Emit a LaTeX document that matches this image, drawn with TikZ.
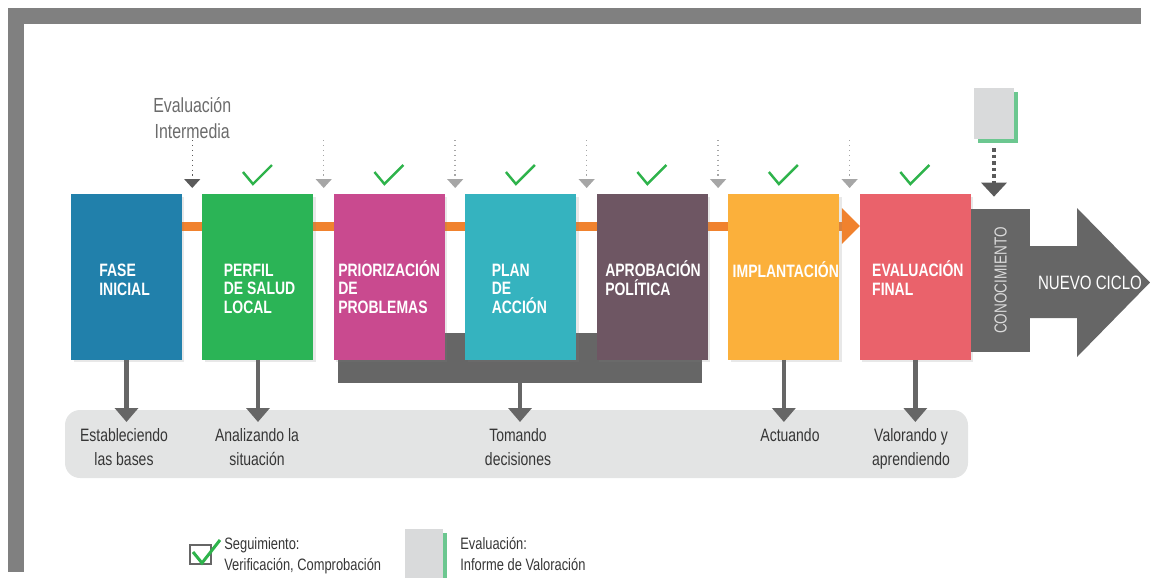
\documentclass[tikz,border=0pt]{standalone}
\usepackage{fontspec}
\setmainfont{Liberation Sans}[FakeStretch=0.78]
\usetikzlibrary{positioning,arrows.meta,shadows,backgrounds,calc}

\definecolor{cfase}{HTML}{2180AB}
\definecolor{cperfil}{HTML}{2BB456}
\definecolor{cprior}{HTML}{C94A8F}
\definecolor{cplan}{HTML}{35B3BF}
\definecolor{caprob}{HTML}{6E5663}
\definecolor{cimpl}{HTML}{FBB03B}
\definecolor{cevfin}{HTML}{EA626B}
\definecolor{dgray}{HTML}{666666}
\definecolor{marco}{HTML}{808080}
\definecolor{franja}{HTML}{E3E4E4}
\definecolor{corange}{HTML}{F0822E}
\definecolor{cvisto}{HTML}{2EB34B}
\definecolor{mgray}{HTML}{A6A6A6}
\definecolor{mdark}{HTML}{5A5A5A}
\definecolor{docgray}{HTML}{D9DADB}
\definecolor{docgreen}{HTML}{6CC790}
\definecolor{txtgray}{HTML}{363636}
\definecolor{intgray}{HTML}{6B6B6B}
\definecolor{conoctxt}{HTML}{DADADA}

\begin{document}
\begin{tikzpicture}[x=0.02cm, y=-0.02cm,
    fasebox/.style={minimum width=2.22cm, minimum height=3.32cm, inner sep=0, outer sep=0,
      drop shadow={shadow xshift=0.05cm, shadow yshift=-0.05cm, opacity=0.18}},
    fasetxt/.style={anchor=base west, align=left, inner sep=0, text=white,
      font=\fontsize{10.2}{10.3}\selectfont\bfseries},
    etiq/.style={anchor=north, align=center, inner sep=0, text=txtgray,
      font=\fontsize{10.2}{13.6}\selectfont},
    legtxt/.style={anchor=north west, align=left, inner sep=0, text=txtgray,
      font=\fontsize{9.4}{11.9}\selectfont},
    bajada/.style={draw=dgray, line width=0.09cm, -{Triangle[length=0.28cm,width=0.46cm]},
      shorten >=0.12cm},
    marca/.style={draw=mgray, line width=0.8pt, dotted,
      -{Triangle[length=0.18cm,width=0.32cm]}, shorten >=0.12cm},
    flujo/.style={draw=corange, line width=0.18cm, -{Triangle[length=0.36cm,width=0.7cm]}},
    visto/.style={draw=cvisto, line width=1.4pt},
    informe/.style={fill=docgray, minimum width=0.8cm, minimum height=1.02cm, inner sep=0,
      general shadow={shadow xshift=0.08cm, shadow yshift=-0.08cm, fill=docgreen}},
  ]
  \useasboundingbox (0,0) rectangle (1150,578);

  % marco
  \fill[marco] (8,8) rectangle (1141,24);
  \fill[marco] (8,8) rectangle (24,572);

  % franja de etiquetas
  \fill[franja, rounded corners=0.3cm] (65,410) rectangle (968,478);

  % bloque de decisiones
  \node[fill=dgray, minimum width=7.28cm, minimum height=1cm, inner sep=0] (grupo) at (520,358) {};

  % fases
  \node[fasebox, fill=cfase] (fase) at (126.5,277) {};
  \node[fasebox, fill=cperfil, right=0.41cm of fase] (perfil) {};
  \node[fasebox, fill=cprior, right=0.41cm of perfil] (prior) {};
  \node[fasebox, fill=cplan, right=0.41cm of prior] (plan) {};
  \node[fasebox, fill=caprob, right=0.41cm of plan] (aprob) {};
  \node[fasebox, fill=cimpl, right=0.41cm of aprob] (impl) {};
  \node[fasebox, fill=cevfin, right=0.41cm of impl] (evfin) {};

  % la base es la de la ultima linea
  \node[fasetxt] (tfase) at ([shift={(28,101)}]fase.north west) {FASE\\INICIAL};
  \node[fasetxt] (tperfil) at ([shift={(21,119)}]perfil.north west) {PERFIL\\DE SALUD\\LOCAL};
  \node[fasetxt] (tprior) at ([shift={(4,119)}]prior.north west) {PRIORIZACIÓN\\DE\\PROBLEMAS};
  \node[fasetxt] (tplan) at ([shift={(26,119)}]plan.north west) {PLAN\\DE\\ACCIÓN};
  \node[fasetxt] (taprob) at ([shift={(8,101)}]aprob.north west) {APROBACIÓN\\POLÍTICA};
  \node[fasetxt] (timpl) at ([shift={(4,83)}]impl.north west) {IMPLANTACIÓN};
  \node[fasetxt] (tevfin) at ([shift={(12,101)}]evfin.north west) {EVALUACIÓN\\FINAL};

  % flujo naranja
  \begin{scope}[on background layer]
    \draw[flujo] ([yshift=1.02cm]fase.center) -- ([yshift=1.02cm]evfin.west);
  \end{scope}

  % conocimiento y nuevo ciclo
  \fill[dgray] (1025,246) -- (1077,246) -- (1077,208) -- (1150,282.5) -- (1077,357)
    -- (1077,318) -- (1025,318) -- cycle;
  \node[fill=dgray, minimum width=1.18cm, minimum height=2.86cm, inner sep=0,
    right=0pt of evfin, yshift=-0.07cm] (conoc) {};
  \node[rotate=90, text=conoctxt, font=\fontsize{9.9}{12}\selectfont] (tconoc) at (conoc) {CONOCIMIENTO};
  \node[text=white, font=\fontsize{11}{13}\selectfont] (nuevo) at (1090,283) {NUEVO CICLO};

  % etiquetas inferiores
  \node[etiq] (lfase) at (124,428) {Estableciendo\\las bases};
  \node[etiq] (lperfil) at (257,428) {Analizando la\\situación};
  \node[etiq] (ltoma) at (518,428) {Tomando\\decisiones};
  \node[etiq] (lactua) at (790,428) {Actuando};
  \node[etiq] (lvalor) at (911,428) {Valorando y\\aprendiendo};

  \draw[bajada] (fase.south) -- (fase.south |- lfase.north);
  \draw[bajada] (perfil.south) -- (perfil.south |- lperfil.north);
  \draw[bajada] (grupo.south) -- (grupo.south |- ltoma.north);
  \draw[bajada] (impl.south) -- (impl.south |- lactua.north);
  \draw[bajada] (evfin.south) -- (evfin.south |- lvalor.north);

  % evaluaciones intermedias
  \coordinate (m1) at ($(fase.north east)!0.5!(perfil.north west)$);
  \node[anchor=south, align=center, inner sep=0, text=intgray,
    font=\fontsize{11.6}{14.7}\selectfont] (tevint) at ([yshift=1.1cm]m1) {Evaluación\\Intermedia};
  \draw[marca, draw=mdark] ([yshift=1.08cm]m1) -- (m1);
  \foreach \a/\b [count=\i from 2] in {perfil/prior, prior/plan, plan/aprob, aprob/impl, impl/evfin} {
    \coordinate (m\i) at ($(\a.north east)!0.5!(\b.north west)$);
    \draw[marca] ([yshift=1.08cm]m\i) -- (m\i);
  }

  % seguimiento
  \foreach \n in {perfil,prior,plan,aprob,impl,evfin}
    \draw[visto] ([shift={(-15,-22)}]\n.north) -- ([shift={(-5,-10)}]\n.north) -- ([shift={(14,-29)}]\n.north);

  % informe de evaluacion final
  \node[informe] (docev) at (994,113.5) {};
  \draw[draw=mdark, line width=0.09cm, dash pattern=on 0.07cm off 0.06cm,
    -{Triangle[length=0.28cm,width=0.5cm]}, shorten <=0.18cm, shorten >=0.24cm]
    (docev.south) -- (docev.south |- conoc.north);

  % leyenda
  \node[draw=dgray, line width=0.6pt, minimum width=0.42cm, minimum height=0.38cm, inner sep=0] (chk) at (200.5,554.5) {};
  \draw[cvisto, line width=0.06cm] ([shift={(-7.5,-2.5)}]chk.center) -- ([shift={(1.5,8.5)}]chk.center)
    -- ([shift={(19.5,-14.5)}]chk.center);
  \node[legtxt] (tseg) at (224,537) {Seguimiento:\\Verificación, Comprobación};
  \node[informe, minimum width=0.76cm, minimum height=0.98cm] (legdoc) at (424,553.5) {};
  \node[legtxt] (tinf) at (460,537) {Evaluación:\\Informe de Valoración};
\end{tikzpicture}
\end{document}
